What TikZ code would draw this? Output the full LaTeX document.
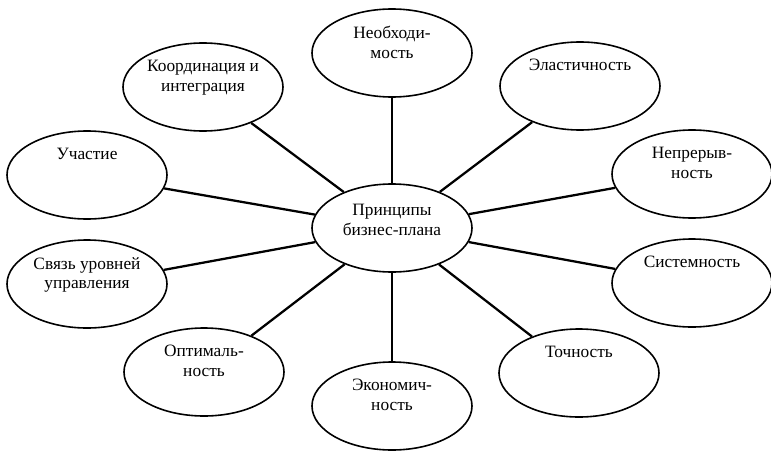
\documentclass[tikz,border=0pt]{standalone}
\usepackage{fontspec}
\setmainfont{Liberation Serif}
\usetikzlibrary{shapes.geometric}

\tikzset{
princ/.style={draw, ellipse, line width=1.2pt, minimum width=120pt, minimum height=66pt, inner sep=0pt},
lbl/.style={anchor=north, align=center, inner sep=0pt, font=\fontsize{13}{14.6}\selectfont},
link/.style={line width=1.7pt}}

\begin{document}
\begin{tikzpicture}[x=0.75pt,y=0.75pt,yscale=-1,xscale=1]
\useasboundingbox (0,0) rectangle (771,453);

% Ellipses
\node[princ] (cen) at (392,228) {};
\node[princ] (neo) at (392,53) {};
\node[princ] (koo) at (203,87) {};
\node[princ] (ela) at (580,86) {};
\node[princ] (uch) at (87,175) {};
\node[princ] (nep) at (692,174) {};
\node[princ] (svy) at (87,284) {};
\node[princ] (sis) at (692,283) {};
\node[princ] (opt) at (204,372) {};
\node[princ] (toc) at (579,373) {};
\node[princ] (eko) at (392,406) {};

% Text Nodes
\node[lbl] (cen-t) at (392,204) {Принципы\\бизнес-плана};
\node[lbl] (neo-t) at (392,26) {Необходи-\\мость};
\node[lbl] (koo-t) at (203,60) {Координация и\\интеграция};
\node[lbl] (ela-t) at (580,59) {Эластичность};
\node[lbl] (uch-t) at (87,148) {Участие};
\node[lbl] (nep-t) at (692,147) {Непрерыв-\\ность};
\node[lbl] (svy-t) at (87,257) {Связь уровней\\управления};
\node[lbl] (sis-t) at (692,256) {Системность};
\node[lbl] (opt-t) at (204,345) {Оптималь-\\ность};
\node[lbl] (toc-t) at (579,346) {Точность};
\node[lbl] (eko-t) at (392,379) {Экономич-\\ность};

% Connectors
\foreach \p in {neo,koo,ela,uch,nep,svy,sis,opt,toc,eko}
  \draw[link] (cen) -- (\p);

\end{tikzpicture}
\end{document}
